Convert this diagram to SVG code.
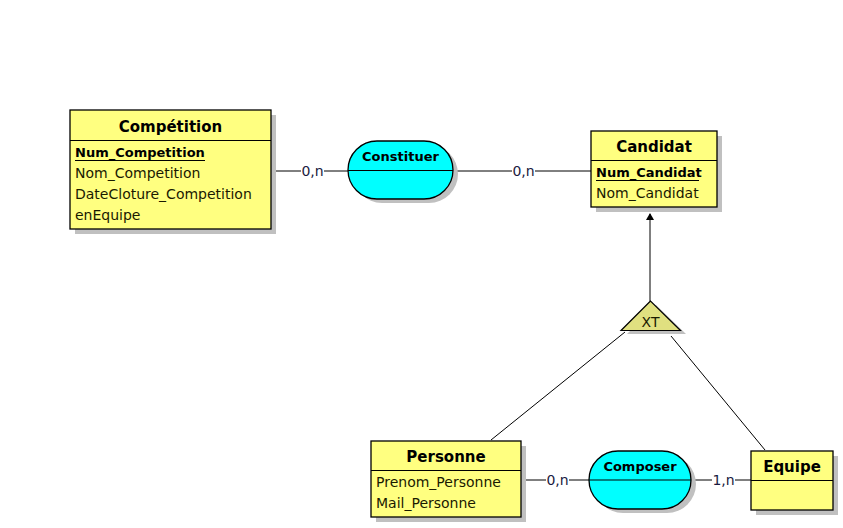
<svg xmlns="http://www.w3.org/2000/svg" width="843" height="528" viewBox="0 0 843 528">
<style>
.ent{fill:#ffff80;stroke:#000;stroke-width:1.3}
.asso{fill:#00ffff;stroke:#000;stroke-width:1.3}
.shadow{fill:#c0c0c0}
.sep{stroke:#000;stroke-width:1}
.title{font-family:"DejaVu Sans",Verdana,sans-serif;font-weight:bold;font-size:15px;fill:#000;text-anchor:middle}
.atitle{font-family:"DejaVu Sans",Verdana,sans-serif;font-weight:bold;font-size:13px;fill:#000;text-anchor:middle}
.attr{font-family:"DejaVu Sans",Verdana,sans-serif;font-size:14px;fill:#1a1a00}
.key{font-family:"DejaVu Sans",Verdana,sans-serif;font-size:13px;font-weight:bold;fill:#000}
.card{font-family:"DejaVu Sans",Verdana,sans-serif;font-size:14px;fill:#1a1a40;text-anchor:middle}
.link{stroke:#000;stroke-width:1;fill:none}
</style>
<rect width="843" height="528" fill="#fff"/>

<g id="connectors">
<line class="link" x1="276" y1="171" x2="301" y2="171"/>
<line class="link" x1="324" y1="171" x2="348" y2="171"/>
<text class="card" x="312.5" y="176">0,n</text>
<line class="link" x1="453" y1="171" x2="512" y2="171"/>
<line class="link" x1="535" y1="171" x2="591" y2="171"/>
<text class="card" x="523.5" y="176">0,n</text>
<line class="link" x1="650" y1="301" x2="650" y2="214"/>
<path d="M646,220 L650,213 L654,220 Z" fill="#000"/>
<line class="link" x1="625" y1="332" x2="491" y2="440"/>
<line class="link" x1="671" y1="336" x2="765" y2="450"/>
<line class="link" x1="526" y1="480" x2="546" y2="480"/>
<line class="link" x1="569" y1="480" x2="589" y2="480"/>
<text class="card" x="557.5" y="485">0,n</text>
<line class="link" x1="695" y1="480" x2="712" y2="480"/>
<line class="link" x1="735" y1="480" x2="751" y2="480"/>
<text class="card" x="723.5" y="485">1,n</text>
</g>

<g id="competition">
<rect class="shadow" x="75" y="115" width="201" height="119"/>
<rect class="ent" x="70" y="110" width="201" height="119"/>
<line class="sep" x1="70" y1="140.5" x2="271" y2="140.5"/>
<text class="title" x="170.5" y="132">Compétition</text>
<text class="key" x="75" y="157">Num_Competition</text>
<line class="sep" x1="75" y1="160.5" x2="205" y2="160.5"/>
<text class="attr" x="75" y="178">Nom_Competition</text>
<text class="attr" x="75" y="199">DateCloture_Competition</text>
<text class="attr" x="75" y="220">enEquipe</text>
</g>

<g id="constituer">
<rect class="shadow" x="353" y="145" width="105" height="58" rx="29" ry="29"/>
<rect class="asso" x="348" y="141" width="105" height="58" rx="29" ry="29"/>
<line class="sep" x1="348" y1="170.5" x2="453" y2="170.5"/>
<text class="atitle" x="400.5" y="161">Constituer</text>
</g>

<g id="candidat">
<rect class="shadow" x="596" y="136" width="126" height="76"/>
<rect class="ent" x="591" y="131" width="126" height="76"/>
<line class="sep" x1="591" y1="160.5" x2="717" y2="160.5"/>
<text class="title" x="654" y="152">Candidat</text>
<text class="key" x="596" y="177">Num_Candidat</text>
<line class="sep" x1="596" y1="180.5" x2="699" y2="180.5"/>
<text class="attr" x="596" y="198">Nom_Candidat</text>
</g>

<g id="xt">
<polygon class="shadow" points="656,305 627,334 686,334"/>
<polygon points="650.5,301 621,330.5 680.5,330.5" fill="#e0e080" stroke="#000" stroke-width="1.2"/>
<text x="650.5" y="327" font-family="DejaVu Sans,Verdana,sans-serif" font-size="14" text-anchor="middle" fill="#1a1a00">XT</text>
</g>

<g id="personne">
<rect class="shadow" x="376" y="446" width="150" height="76"/>
<rect class="ent" x="371" y="441" width="150" height="76"/>
<line class="sep" x1="371" y1="470.5" x2="521" y2="470.5"/>
<text class="title" x="446" y="462">Personne</text>
<text class="attr" x="376" y="487">Prenom_Personne</text>
<text class="attr" x="376" y="508">Mail_Personne</text>
</g>

<g id="composer">
<rect class="shadow" x="594" y="455" width="102" height="58" rx="29" ry="29"/>
<rect class="asso" x="589" y="451" width="102" height="58" rx="29" ry="29"/>
<line class="sep" x1="589" y1="480" x2="691" y2="480"/>
<text class="atitle" x="640" y="471">Composer</text>
</g>

<g id="equipe">
<rect class="shadow" x="756" y="456" width="82" height="59"/>
<rect class="ent" x="751" y="451" width="82" height="59"/>
<line class="sep" x1="751" y1="480.5" x2="833" y2="480.5"/>
<text class="title" x="792" y="472">Equipe</text>
</g>
</svg>
